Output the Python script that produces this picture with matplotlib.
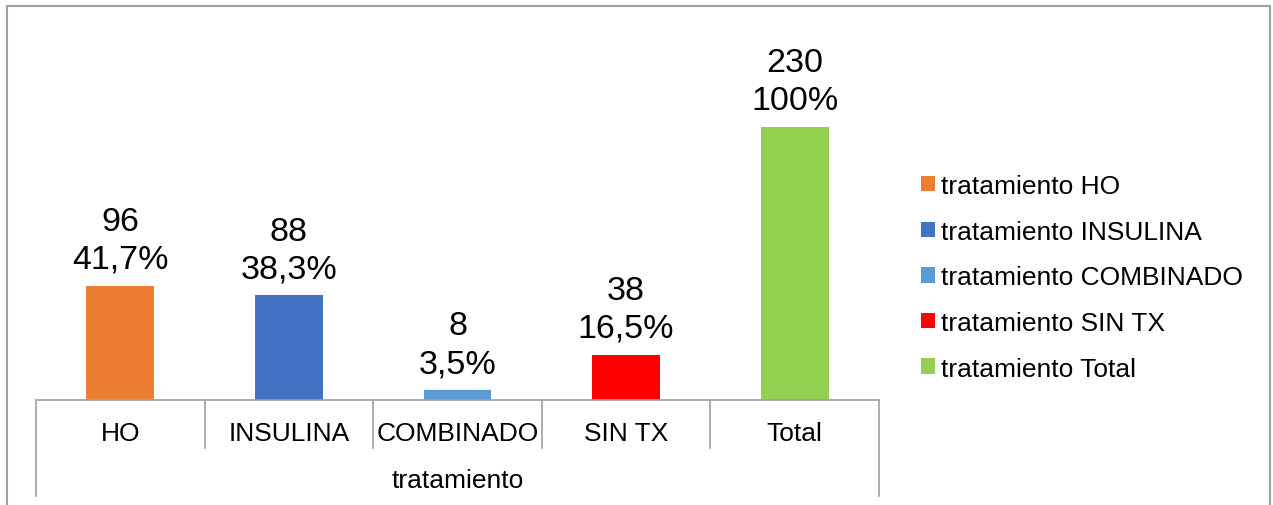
import matplotlib
matplotlib.use("Agg")
import matplotlib.pyplot as plt
from matplotlib.patches import Patch, Rectangle
from matplotlib.lines import Line2D

plt.rcParams['font.family'] = ['Liberation Sans', 'DejaVu Sans']

categories = ["HO", "INSULINA", "COMBINADO", "SIN TX", "Total"]
counts = [96, 88, 8, 38, 230]
percents = ["41,7%", "38,3%", "3,5%", "16,5%", "100%"]
legend_labels = ["tratamiento HO", "tratamiento INSULINA", "tratamiento COMBINADO",
                 "tratamiento SIN TX", "tratamiento Total"]
group_label = "tratamiento"
colors = ["#ED7D31", "#4472C4", "#5B9BD5", "#FF0000", "#92D050"]

W, H = 1273, 506
fig = plt.figure(figsize=(W / 100, H / 100), dpi=100)

# outer frame (open at bottom, extends beyond image)
fig.add_artist(Rectangle((6.5 / W, -0.1), (1270 - 6.5) / W, (H - 6.5) / H + 0.1,
                         transform=fig.transFigure, fill=False,
                         edgecolor="#A0A0A0", linewidth=1.5))

ax_left, ax_right = 36, 879
ax_base, ax_top = 400.7, 30
ax = fig.add_axes([ax_left / W, (H - ax_base) / H, (ax_right - ax_left) / W,
                   (ax_base - ax_top) / H])
px_per_unit = 272.7 / 230
ax_h_px = ax_base - ax_top
ax.set_ylim(0, ax_h_px / px_per_unit)
ax.set_xlim(-0.5, len(categories) - 0.5)

x = list(range(len(categories)))
bars = ax.bar(x, counts, width=0.403, color=colors, zorder=2)

for xi, c, p in zip(x, counts, percents):
    ax.annotate(f"{c}\n{p}", (xi, c), xytext=(0, 8), textcoords="offset points",
                ha="center", va="bottom", fontsize=24.5, linespacing=1.28)

for s in ["top", "left", "right"]:
    ax.spines[s].set_visible(False)
ax.spines["bottom"].set_color("#A0A0A0")
ax.spines["bottom"].set_linewidth(1.2)
ax.set_yticks([])
ax.set_xticks([])

trans = ax.get_xaxis_transform()
inner_bottom = -(449 - ax_base) / ax_h_px
outer_bottom = -(497 - ax_base) / ax_h_px
n = len(categories)
for b in range(n + 1):
    xb = b - 0.5
    yb = outer_bottom if b in (0, n) else inner_bottom
    ax.add_line(Line2D([xb, xb], [0, yb], transform=trans, color="#A0A0A0",
                       linewidth=1.2, clip_on=False))

for xi, cat in zip(x, categories):
    ax.text(xi, -(434 - ax_base) / ax_h_px, cat, transform=trans, ha="center",
            va="center", fontsize=19)
ax.text((n - 1) / 2, -(481 - ax_base) / ax_h_px, group_label, transform=trans,
        ha="center", va="center", fontsize=19)

handles = [Patch(facecolor=c, edgecolor="none") for c in colors]
fig.legend(handles, legend_labels, loc="upper left",
           bbox_to_anchor=(921 / W, (H - 175) / H), frameon=False,
           fontsize=19, handlelength=0.53, handleheight=0.53,
           handletextpad=0.23, labelspacing=0.82, borderpad=0, borderaxespad=0)

fig.savefig("out.png", dpi=100)
